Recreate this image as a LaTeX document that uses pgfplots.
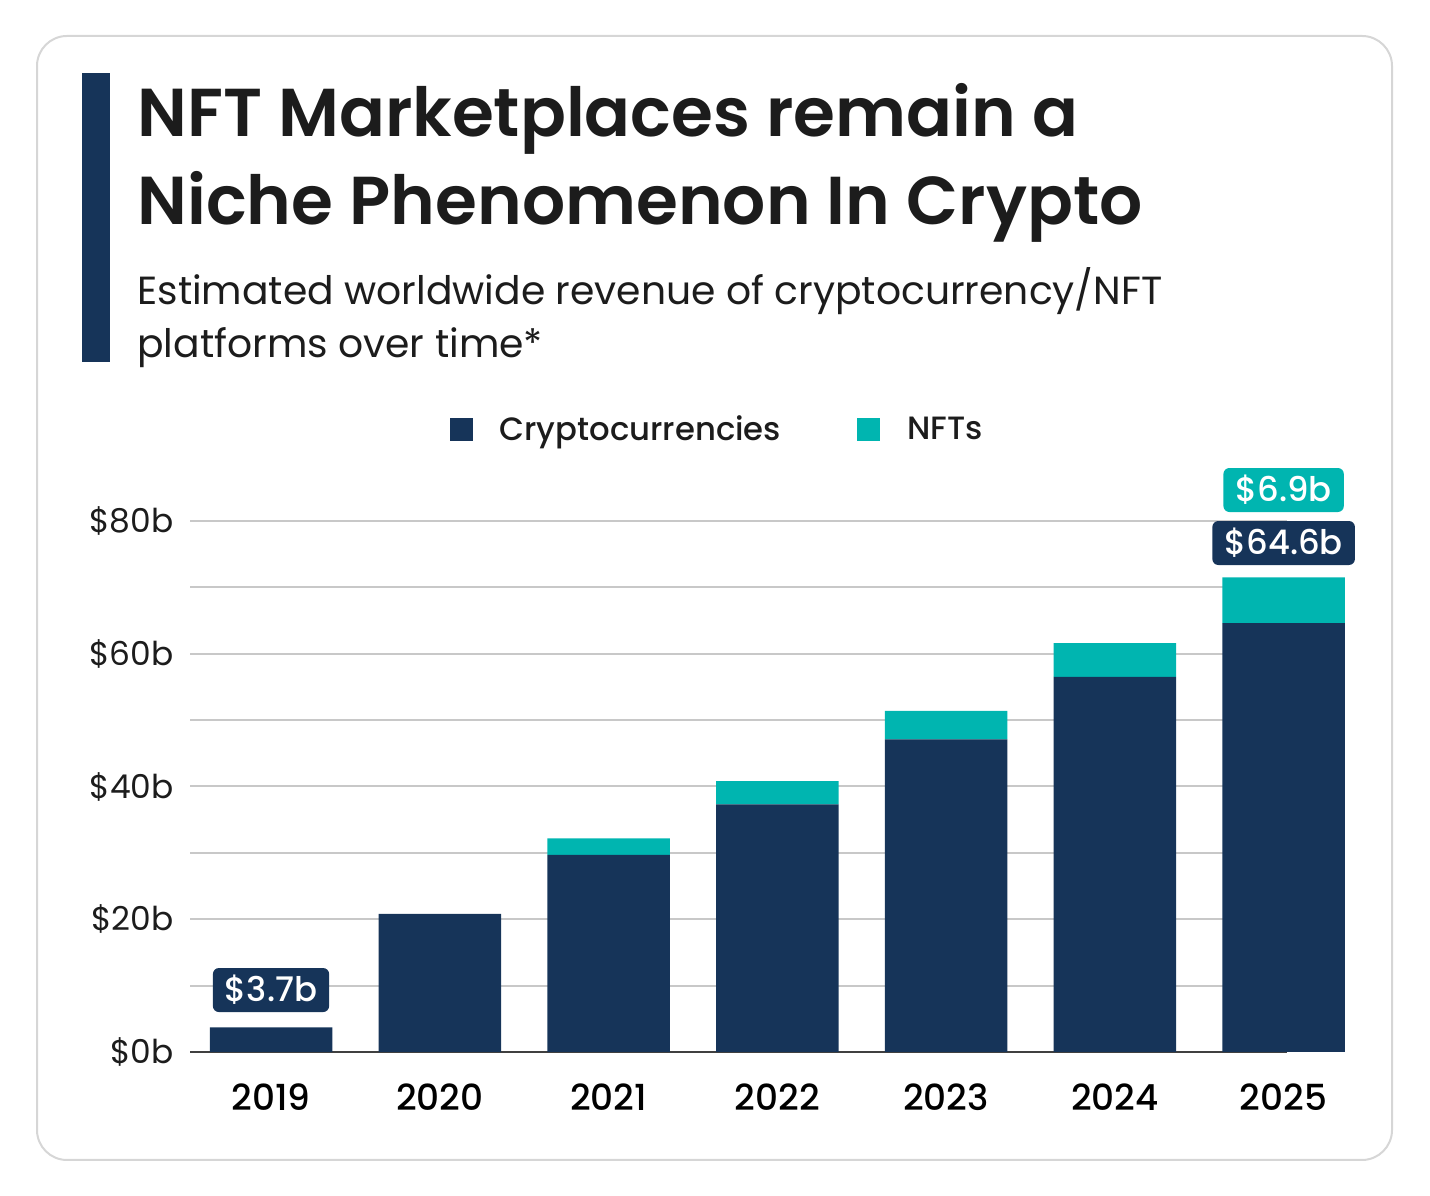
\documentclass[border=0pt]{standalone}
\usepackage{pgfplots}
\pgfplotsset{compat=1.18}
\usepackage{fontspec}
\setmainfont{Poppins}
\newfontfamily\pbold{Poppins}[UprightFont={* SemiBold}]
\newfontfamily\pmed{Poppins}[UprightFont={* Medium}]
\definecolor{navy}{RGB}{22,52,89}
\definecolor{nftteal}{RGB}{0,181,176}
\definecolor{txt}{RGB}{28,28,28}
\definecolor{gridc}{RGB}{200,200,200}
\definecolor{cardb}{RGB}{214,214,214}
\begin{document}
\begin{tikzpicture}[x=1bp,y=1bp]
\useasboundingbox (0,0) rectangle (715,598);
\draw[cardb, line width=1bp, rounded corners=15bp] (18.5,18) rectangle (696,580);
\fill[navy] (41,417) rectangle (55,561.5);
\node[anchor=base west, inner sep=0pt, text=txt, font=\pbold\fontsize{34}{40}\selectfont] at (68.5,529.5) {NFT Marketplaces remain a};
\node[anchor=base west, inner sep=0pt, text=txt, font=\pbold\fontsize{34}{40}\selectfont] at (68.5,485.5) {Niche Phenomenon In Crypto};
\node[anchor=base west, inner sep=0pt, text=txt, font=\fontsize{19.7}{24}\selectfont] at (68.5,445.5) {Estimated worldwide revenue of cryptocurrency/NFT};
\node[anchor=base west, inner sep=0pt, text=txt, font=\fontsize{19.7}{24}\selectfont] at (68.5,419) {platforms over time*};
\begin{axis}[
  at={(95bp,72bp)}, anchor=south west,
  width=548.5bp, height=265.5bp, scale only axis,
  xmin=-0.48, xmax=6.02, ymin=0, ymax=80,
  clip=false,
  ybar stacked, bar width=0.726,
  xtick={0,1,2,3,4,5,6},
  xticklabels={2019,2020,2021,2022,2023,2024,2025},
  ytick={0,20,40,60,80},
  yticklabels={\$0b,\$20b,\$40b,\$60b,\$80b},
  minor ytick={10,30,50,70},
  ymajorgrids, yminorgrids,
  major grid style={gridc, line width=1bp},
  minor grid style={gridc, line width=1bp},
  axis x line*=bottom, axis y line*=left,
  x axis line style={-, draw=black!75, line width=1.3bp},
  y axis line style={draw=none},
  major tick length=0pt, minor tick length=0pt,
  tick style={draw=none},
  xticklabel style={font=\pmed\fontsize{18}{20}\selectfont, text=black, anchor=north, inner sep=0pt, yshift=-15.5bp},
  yticklabel style={font=\fontsize{16.5}{18}\selectfont, text=txt, anchor=east, inner sep=0pt, xshift=-8bp},
  legend columns=2,
  legend style={draw=none, fill=none, at={(0.4813,1.1714)}, anchor=center,
    font=\pmed\fontsize{16.2}{20}\selectfont, text=txt,
    /tikz/every odd column/.append style={column sep=11.5bp},
    /tikz/every even column/.append style={column sep=36bp}},
  legend image code/.code={\fill[#1] (0bp,-5.75bp) rectangle (11.5bp,5.75bp);},
]
\addplot[fill=navy, draw=none] coordinates {(0,3.7) (1,20.8) (2,29.7) (3,37.3) (4,47.1) (5,56.5) (6,64.6)};
\addplot[fill=nftteal, draw=none] coordinates {(0,0) (1,0) (2,2.5) (3,3.5) (4,4.3) (5,5.1) (6,6.9)};
\legend{Cryptocurrencies, NFTs}
\node[fill=navy, text=white, rounded corners=3bp, minimum height=22bp, inner xsep=6bp, inner ysep=0pt, font=\pmed\fontsize{17}{20}\selectfont, anchor=south, yshift=7.5bp] at (axis cs:0,3.7) {\$3.7b};
\node[fill=navy, text=white, rounded corners=3bp, minimum height=22bp, inner xsep=6bp, inner ysep=0pt, font=\pmed\fontsize{17}{20}\selectfont, anchor=south, yshift=6bp] at (axis cs:6,71.5) {\$64.6b};
\node[fill=nftteal, text=white, rounded corners=3bp, minimum height=22bp, inner xsep=6bp, inner ysep=0pt, font=\pmed\fontsize{17}{20}\selectfont, anchor=south, yshift=32.5bp] at (axis cs:6,71.5) {\$6.9b};
\end{axis}
\end{tikzpicture}
\end{document}
